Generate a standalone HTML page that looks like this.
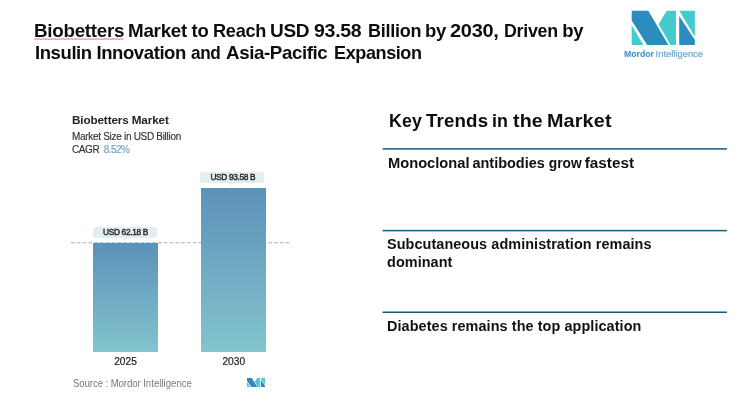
<!DOCTYPE html>
<html lang="en">
<head>
<meta charset="utf-8">
<title>Biobetters Market</title>
<style>
html,body{margin:0;padding:0;background:#fff;}
body{width:750px;height:415px;position:relative;overflow:hidden;font-family:"Liberation Sans",sans-serif;color:#111;}
.abs{position:absolute;white-space:nowrap;}
#title{left:35px;top:20px;font-weight:bold;font-size:18.5px;line-height:21.6px;color:#0d0d0d;letter-spacing:-0.27px;}
#title .l2{letter-spacing:-0.41px;}
#title .w,#kt .w,.it .w{position:relative;display:inline-block;}
#ct{left:72px;top:113.3px;font-weight:bold;font-size:11.7px;color:#222;letter-spacing:-0.12px;}
#cs{left:72px;top:130.9px;font-size:10px;color:#333;letter-spacing:-0.3px;-webkit-text-stroke:0.15px #333;}
#cg{left:72px;top:143.8px;font-size:10px;color:#333;letter-spacing:-0.42px;word-spacing:2.4px;-webkit-text-stroke:0.15px #333;}
#cg span{letter-spacing:-0.55px;margin-left:-0.3px;color:#6fa3c4;-webkit-text-stroke:0.15px #6fa3c4;}
.bar{position:absolute;background:linear-gradient(#5c91b9,#83c4cd);}
.lab{position:absolute;background:#e3eef2;border-radius:3px;font-size:8.3px;font-weight:normal;-webkit-text-stroke:0.42px #2a2a2a;color:#2a2a2a;text-align:center;height:11px;line-height:11.4px;letter-spacing:-0.33px;text-indent:1px;}
.lab:after{content:"";position:absolute;left:50%;margin-left:-3px;top:11px;border:3px solid transparent;border-top-color:#e3eef2;border-bottom:0;}
#dash{position:absolute;left:71px;top:242px;width:219px;height:0;border-top:1px dashed #a9c3d6;}
.yr{font-size:10.2px;color:#222;-webkit-text-stroke:0.2px #222;width:65px;text-align:center;}
#src{left:73px;top:378px;font-size:10.2px;color:#7a7a7a;letter-spacing:-0.1px;transform:scaleX(0.945);transform-origin:0 0;}
#kt{left:388.8px;top:110px;font-weight:bold;font-size:18.5px;color:#0d0d0d;letter-spacing:0.15px;}
.ln{position:absolute;left:383px;width:344px;height:1.8px;background:#3f7fa6;}
.it{transform:scaleX(1.03);transform-origin:0 0;position:absolute;left:387.2px;font-weight:bold;font-size:14px;line-height:17.9px;color:#111;white-space:nowrap;}
</style>
</head>
<body>
<div id="title" class="abs"><span class="w" style="left:-0.8px;transform:scaleX(1.016);transform-origin:0 0">Biobetters</span> <span class="w" style="left:-1px;transform:scaleX(1.0175);transform-origin:0 0">Market</span> to <span class="w" style="left:0px;transform:scaleX(0.981);transform-origin:0 0">Reach</span> <span class="w" style="left:-2px;transform:scaleX(1.028);transform-origin:0 0">USD</span> <span class="w" style="left:-1.4px;transform:scaleX(1.055);transform-origin:0 0">93.58</span> <span class="w" style="left:2.4px;transform:scaleX(0.974);transform-origin:0 0">Billion</span> by <span class="w" style="left:-0.6px;transform:scaleX(1.08);transform-origin:0 0">2030,</span> <span class="w" style="left:3px;transform:scaleX(0.963);transform-origin:0 0">Driven</span> <span class="w" style="left:0.7px;transform:scaleX(1);transform-origin:0 0">by</span><br><span class="l2">Insulin Innovation <span class="w" style="left:0px;transform:scaleX(0.93);transform-origin:0 0">and</span> <span class="w" style="left:-0.8px;transform:scaleX(1.014);transform-origin:0 0">Asia-Pacific</span> <span class="w" style="left:2.2px;transform:scaleX(0.975);transform-origin:0 0">Expansion</span></span></div>

<svg class="abs" style="left:34px;top:38.3px" width="91" height="3"><polyline points="0.00,0.3 1.35,1.9 2.70,0.3 4.05,1.9 5.40,0.3 6.75,1.9 8.10,0.3 9.45,1.9 10.80,0.3 12.15,1.9 13.50,0.3 14.85,1.9 16.20,0.3 17.55,1.9 18.90,0.3 20.25,1.9 21.60,0.3 22.95,1.9 24.30,0.3 25.65,1.9 27.00,0.3 28.35,1.9 29.70,0.3 31.05,1.9 32.40,0.3 33.75,1.9 35.10,0.3 36.45,1.9 37.80,0.3 39.15,1.9 40.50,0.3 41.85,1.9 43.20,0.3 44.55,1.9 45.90,0.3 47.25,1.9 48.60,0.3 49.95,1.9 51.30,0.3 52.65,1.9 54.00,0.3 55.35,1.9 56.70,0.3 58.05,1.9 59.40,0.3 60.75,1.9 62.10,0.3 63.45,1.9 64.80,0.3 66.15,1.9 67.50,0.3 68.85,1.9 70.20,0.3 71.55,1.9 72.90,0.3 74.25,1.9 75.60,0.3 76.95,1.9 78.30,0.3 79.65,1.9 81.00,0.3 82.35,1.9 83.70,0.3 85.05,1.9 86.40,0.3 87.75,1.9 89.10,0.3" fill="none" stroke="#f25f5f" stroke-width="0.85"/></svg>
<svg class="abs" style="left:620px;top:5px" width="100" height="60" viewBox="620 5 100 60">
<g transform="translate(0,0.3)">
<polygon points="631.7,10.4 648.3,10.4 668.4,44.6 647.2,44.6 631.7,20.2" fill="#2c8cc0"/>
<polygon points="631.7,25 631.7,44.6 643.4,44.6" fill="#45cbce"/>
<polygon points="666.7,10.4 676,10.4 676,44.6 670.5,44.6 658.6,24" fill="#45cbce"/>
<polygon points="679.2,10.4 694.9,10.4 694.9,36.4" fill="#45cbce"/>
<polygon points="679.2,15.8 679.2,44.6 694.9,44.6 694.9,39.7" fill="#2c8cc0"/>
</g>
<text x="624" y="56.8" font-family="Liberation Sans, sans-serif" font-size="9.8" font-weight="bold" fill="#3a8ec2" textLength="30" lengthAdjust="spacingAndGlyphs">Mordor</text>
<text x="655.6" y="56.8" font-family="Liberation Sans, sans-serif" font-size="9.8" fill="#62a3ce" stroke="#62a3ce" stroke-width="0.15" textLength="47.4" lengthAdjust="spacingAndGlyphs">Intelligence</text>
</svg>

<div id="ct" class="abs">Biobetters Market</div>
<div id="cs" class="abs">Market Size in USD Billion</div>
<div id="cg" class="abs">CAGR <span>8.52%</span></div>

<svg class="abs" style="left:71px;top:240px" width="220" height="6"><line x1="0" y1="2.8" x2="218.5" y2="2.8" stroke="#93b4ce" stroke-width="1.1" stroke-dasharray="3.7 2.1"/></svg>
<div class="bar" style="left:93px;top:243px;width:65px;height:108.5px;"></div>
<div class="bar" style="left:201px;top:188px;width:65px;height:163.5px;"></div>
<div class="lab" style="left:93px;top:226.6px;width:64px;">USD 62.18 B</div>
<div class="lab" style="left:200.3px;top:171.8px;width:64px;">USD 93.58 B</div>
<div class="abs yr" style="left:93px;top:356.2px;">2025</div>
<div class="abs yr" style="left:201.3px;top:356.2px;">2030</div>
<div id="src" class="abs">Source : Mordor <span style="letter-spacing:0px">Intelligence</span></div>
<svg class="abs" style="left:246.7px;top:377.5px" width="18.4" height="9.4" viewBox="631.7 10.4 63.2 34.2" preserveAspectRatio="none">
<polygon points="631.7,10.4 648.3,10.4 668.4,44.6 647.2,44.6 631.7,20.2" fill="#2c8cc0"/>
<polygon points="631.7,25 631.7,44.6 643.4,44.6" fill="#45cbce"/>
<polygon points="666.7,10.4 676,10.4 676,44.6 670.5,44.6 658.6,24" fill="#45cbce"/>
<polygon points="679.2,10.4 694.9,10.4 694.9,36.4" fill="#45cbce"/>
<polygon points="679.2,15.8 679.2,44.6 694.9,44.6 694.9,39.7" fill="#2c8cc0"/>
</svg>

<svg class="abs" style="left:0;top:0" width="750" height="415"><rect x="382.6" y="148.15" width="344.3" height="1.5" fill="#15587c"/><rect x="382.6" y="229.85" width="344.3" height="1.5" fill="#15587c"/><rect x="382.6" y="311.5" width="344.3" height="1.5" fill="#15587c"/></svg>
<div id="kt" class="abs"><span class="w" style="left:0px;transform:scaleX(0.96);transform-origin:0 0">Key</span> <span class="w" style="left:-2.2px;transform:scaleX(1.01);transform-origin:0 0">Trends</span> <span class="w" style="left:-3px;transform:scaleX(0.967);transform-origin:0 0">in</span> <span class="w" style="left:-4px;transform:scaleX(1.06);transform-origin:0 0">the</span> <span class="w" style="left:-4px;transform:scaleX(1.068);transform-origin:0 0">Market</span></div>
<div class="it" style="top:154.65px;letter-spacing:-0.01px"><span class="w" style="left:0.8px;transform:scaleX(1.018);transform-origin:0 0">Monoclonal</span> <span class="w" style="left:1.9px;transform:scaleX(1.004);transform-origin:0 0">antibodies</span> <span class="w" style="left:2.1px;transform:scaleX(0.958);transform-origin:0 0">grow</span> <span class="w" style="left:-0.7px;transform:scaleX(1.06);transform-origin:0 0">fastest</span></div>
<div class="it" style="top:235.6px;letter-spacing:0.07px">Subcutaneous administration remains<br>dominant</div>
<div class="it" style="top:318.2px;letter-spacing:0.076px">Diabetes remains the top application</div>
</body>
</html>
